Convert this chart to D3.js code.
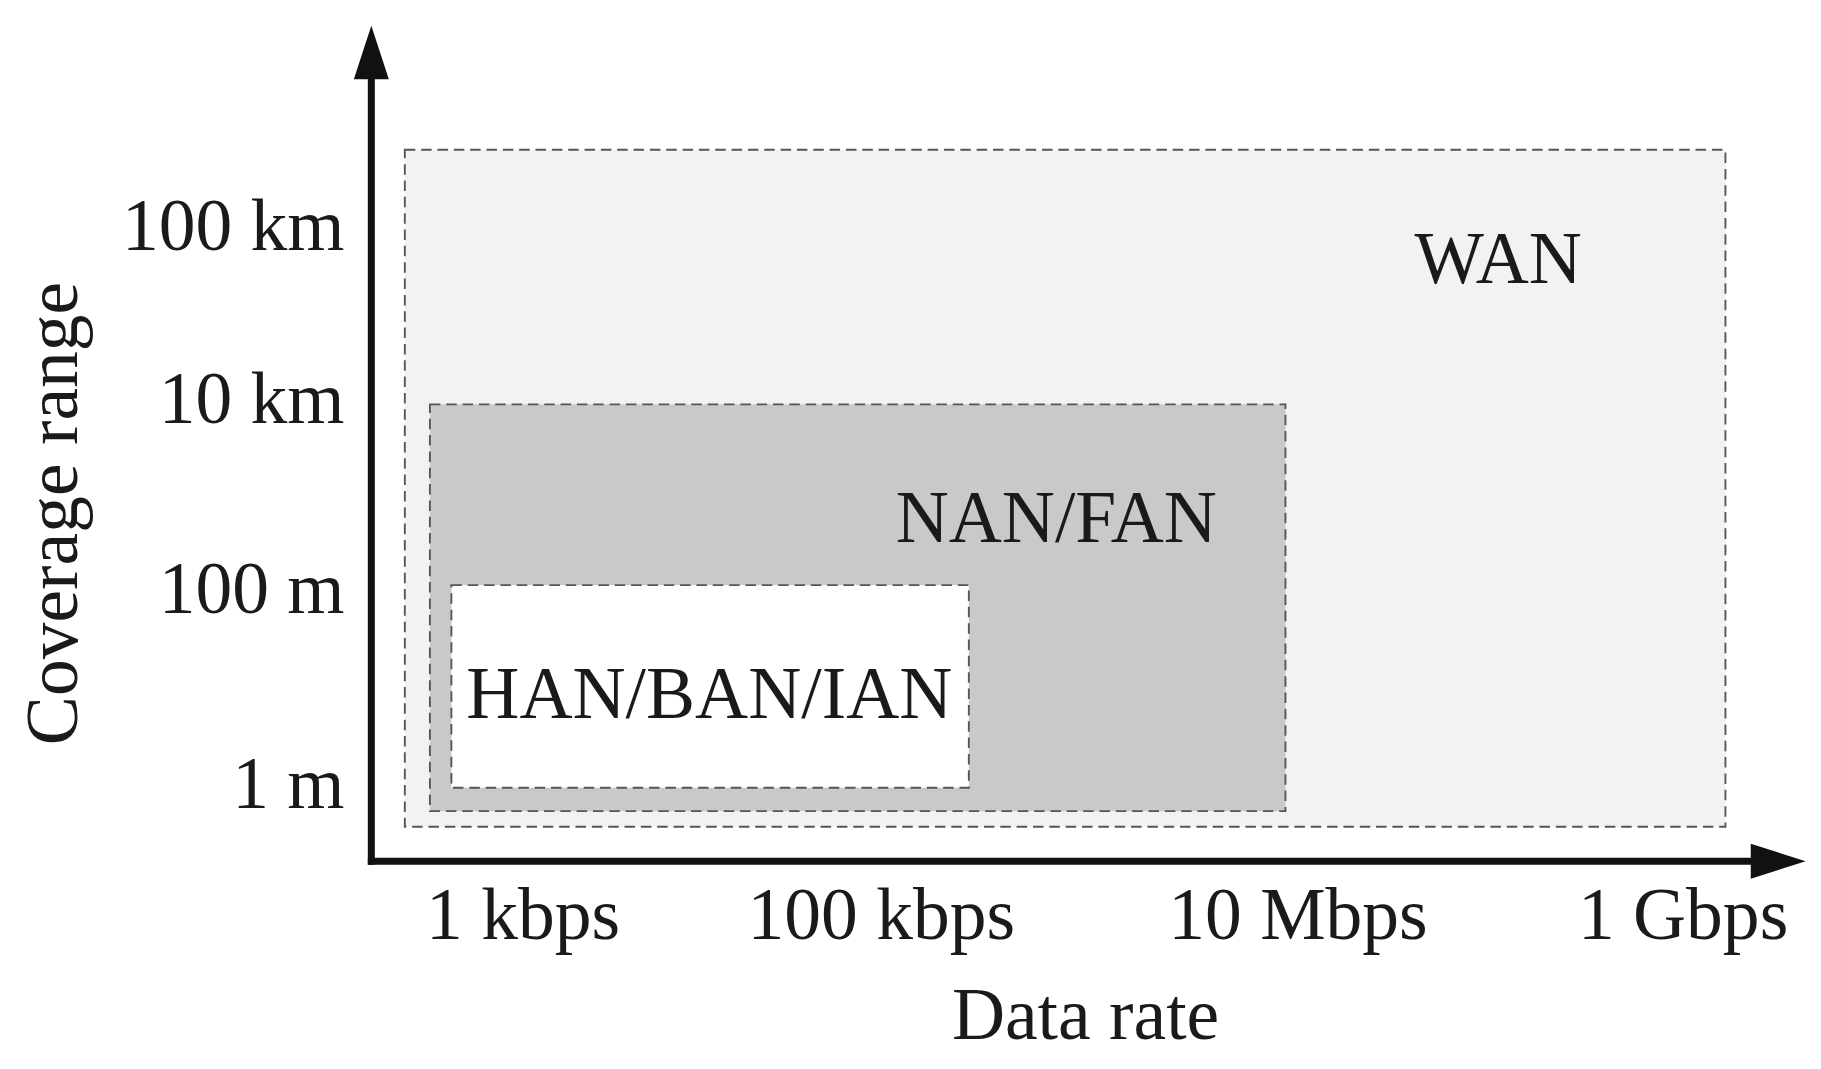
<!DOCTYPE html>
<html>
<head>
<meta charset="utf-8">
<script src="https://cdn.jsdelivr.net/npm/d3@7"></script>
<style>
  body { margin: 0; background: #fff; }
  text { font-family: "Liberation Serif", "Times New Roman", serif; fill: #1a1a1a; }
</style>
</head>
<body>
<svg id="chart"></svg>
<script>
/// data ///
const xTicks = ["1 kbps", "100 kbps", "10 Mbps", "1 Gbps"];
const yTicks = ["1 m", "100 m", "10 km", "100 km"];
// areas in tick-index units: [x0, x1, y0, y1]
const areaNames = ["WAN", "NAN/FAN", "HAN/BAN/IAN"];
const areaExtents = [[-0.33, 3.11, -0.23, 3.43], [-0.26, 1.97, -0.15, 1.96], [-0.2, 1.21, -0.03, 1.01]];
const areaFills = ["#f2f2f2", "#c8c9cb", "#ffffff"];
const areaLabelPos = [[2.52, 2.81], [1.42, 1.37], [0.52, 0.46]];

/// dimensions ///
const W = 1560, H = 916;
const svg = d3.select("#chart").attr("width", 1821).attr("height", 1069)
  .attr("viewBox", `0 0 ${W} ${H}`);

// tick spacing in the figure is not uniform, so piecewise scales
const x = d3.scaleLinear().domain([0, 1, 2, 3]).range([448, 755, 1112, 1442]);
const y = d3.scaleLinear().domain([0, 1, 2, 3]).range([670, 503, 340, 192]);

// areas
areaExtents.forEach((e, i) => {
  svg.append("rect")
    .attr("x", x(e[0])).attr("y", y(e[3]))
    .attr("width", x(e[1]) - x(e[0])).attr("height", y(e[2]) - y(e[3]))
    .attr("fill", areaFills[i])
    .attr("stroke", "#555").attr("stroke-width", 1.6)
    .attr("stroke-dasharray", "9,5");
  svg.append("text")
    .attr("x", x(areaLabelPos[i][0])).attr("y", y(areaLabelPos[i][1]))
    .attr("text-anchor", "middle").attr("dy", "0.35em")
    .attr("font-size", 63).text(areaNames[i]);
});

// axes lines with arrows
const ax = 318, ay = 738;
svg.append("line").attr("x1", ax).attr("y1", 60).attr("x2", ax).attr("y2", ay + 3)
  .attr("stroke", "#111").attr("stroke-width", 6);
svg.append("line").attr("x1", ax - 3).attr("y1", ay).attr("x2", 1505).attr("y2", ay)
  .attr("stroke", "#111").attr("stroke-width", 6);
svg.append("path").attr("d", `M${ax},22 L${ax - 15},68 L${ax + 15},68 Z`).attr("fill", "#111");
svg.append("path").attr("d", `M1547,${ay} L1500,${ay - 15} L1500,${ay + 15} Z`).attr("fill", "#111");

// tick labels
svg.append("g").selectAll("text").data(xTicks).join("text")
  .attr("x", (d, i) => x(i)).attr("y", 805)
  .attr("text-anchor", "middle").attr("font-size", 63).text(d => d);
svg.append("g").selectAll("text").data(yTicks).join("text")
  .attr("x", 295).attr("y", (d, i) => y(i)).attr("dy", "0.35em")
  .attr("text-anchor", "end").attr("font-size", 63).text(d => d);

// axis titles
svg.append("text").attr("x", 930).attr("y", 890).attr("text-anchor", "middle")
  .attr("font-size", 63).text("Data rate");
svg.append("text").attr("transform", "translate(66,440) rotate(-90)")
  .attr("text-anchor", "middle").attr("font-size", 63).text("Coverage range");
</script>
</body>
</html>
